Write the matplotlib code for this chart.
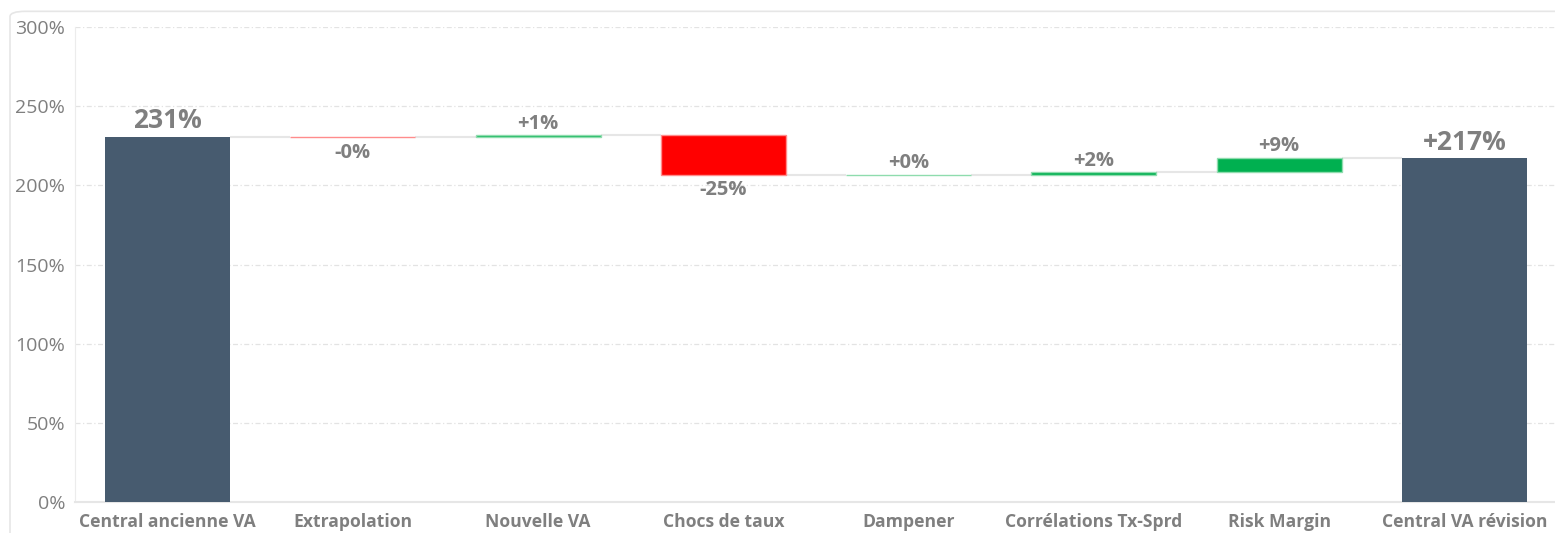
import matplotlib
matplotlib.use("Agg")
import matplotlib.pyplot as plt
from matplotlib.patches import FancyBboxPatch
import numpy as np

# waterfall data
categories = ["Central ancienne VA", "Extrapolation", "Nouvelle VA", "Chocs de taux",
              "Dampener", "Corrélations Tx-Sprd", "Risk Margin", "Central VA révision"]
start_value = 230.8
deltas = [-0.3, 1.1, -25.0, 0.2, 1.6, 9.0]

TOTAL_COLOR = "#475b6f"
NEG_COLOR = "#ff0000"
NEG_EDGE = "#ff8c8c"
POS_COLOR = "#00b050"
POS_EDGE = "#8fdcae"
LABEL_COLOR = "#7f7f7f"
GRID_COLOR = "#e3e3e3"
FONT = ["Open Sans", "DejaVu Sans"]

plt.rcParams['font.family'] = FONT

fig = plt.figure(figsize=(15.55, 5.33), dpi=100)
ax = fig.add_axes([75 / 1555, 31 / 533, 1482 / 1555, 475 / 533])

# outer frame of the visual
frame = FancyBboxPatch((10 / 1555, -0.05), 1.05, 1.04 - 6 / 533,
                       boxstyle="round,pad=0,rounding_size=0.01",
                       transform=fig.transFigure, facecolor="none",
                       edgecolor="#e6e6e6", linewidth=1.2, zorder=0)
fig.patches.append(frame)

x = np.arange(len(categories))
width = 0.675

# running levels
levels = [start_value]
for d in deltas:
    levels.append(levels[-1] + d)
end_value = levels[-1]

# totals
ax.bar(x[0], start_value, width, color=TOTAL_COLOR, zorder=3)
ax.bar(x[-1], end_value, width, color=TOTAL_COLOR, zorder=3)

# deltas
for i, d in enumerate(deltas):
    base = levels[i]
    if d >= 0:
        col, edge = POS_COLOR, POS_EDGE
    else:
        col, edge = NEG_COLOR, NEG_EDGE
    ax.bar(x[i + 1], d, width, bottom=base, color=col, edgecolor=edge,
           linewidth=1.0, zorder=3)

# connectors
for i in range(len(categories) - 1):
    ax.plot([x[i] + width / 2, x[i + 1] - width / 2], [levels[i], levels[i]],
            color="#e6e6e6", linewidth=1.5, zorder=2, solid_capstyle="butt")

# labels
ax.annotate("%.0f%%" % start_value, (x[0], start_value), xytext=(0, 2),
            textcoords="offset points", ha="center", va="bottom",
            fontsize=19, fontweight="bold", color=LABEL_COLOR)
ax.annotate("+%.0f%%" % end_value, (x[-1], end_value), xytext=(0, 1),
            textcoords="offset points", ha="center", va="bottom",
            fontsize=19, fontweight="bold", color=LABEL_COLOR)
for i, d in enumerate(deltas):
    top = max(levels[i], levels[i + 1])
    bottom = min(levels[i], levels[i + 1])
    if d >= 0:
        ax.annotate("+%.0f%%" % d, (x[i + 1], top), xytext=(0, 1),
                    textcoords="offset points", ha="center", va="bottom",
                    fontsize=14.5, fontweight="bold", color=LABEL_COLOR)
    else:
        ax.annotate("-%.0f%%" % abs(d), (x[i + 1], bottom), xytext=(0, -4),
                    textcoords="offset points", ha="center", va="top",
                    fontsize=14.5, fontweight="bold", color=LABEL_COLOR)

ax.set_xlim(-0.5, len(categories) - 0.5)
ax.set_ylim(0, 300)
ax.set_yticks(np.arange(0, 301, 50))
ax.set_yticklabels(["%d%%" % v for v in np.arange(0, 301, 50)])
ax.set_xticks(x)
ax.set_xticklabels(categories, fontweight="bold")

ax.tick_params(axis="y", length=0, pad=7, labelsize=14, labelcolor=LABEL_COLOR)
ax.tick_params(axis="x", length=0, pad=8, labelsize=12.6, labelcolor=LABEL_COLOR)

ax.grid(axis="y", color=GRID_COLOR, linestyle=(0, (4, 2, 1, 2)), linewidth=0.9, zorder=0)
ax.set_axisbelow(True)
for s in ["top", "right"]:
    ax.spines[s].set_visible(False)
ax.spines["left"].set_color("#ececec")
ax.spines["bottom"].set_color("#e6e6e6")
ax.spines["bottom"].set_linewidth(1.5)

fig.savefig("out.png", dpi=100)
